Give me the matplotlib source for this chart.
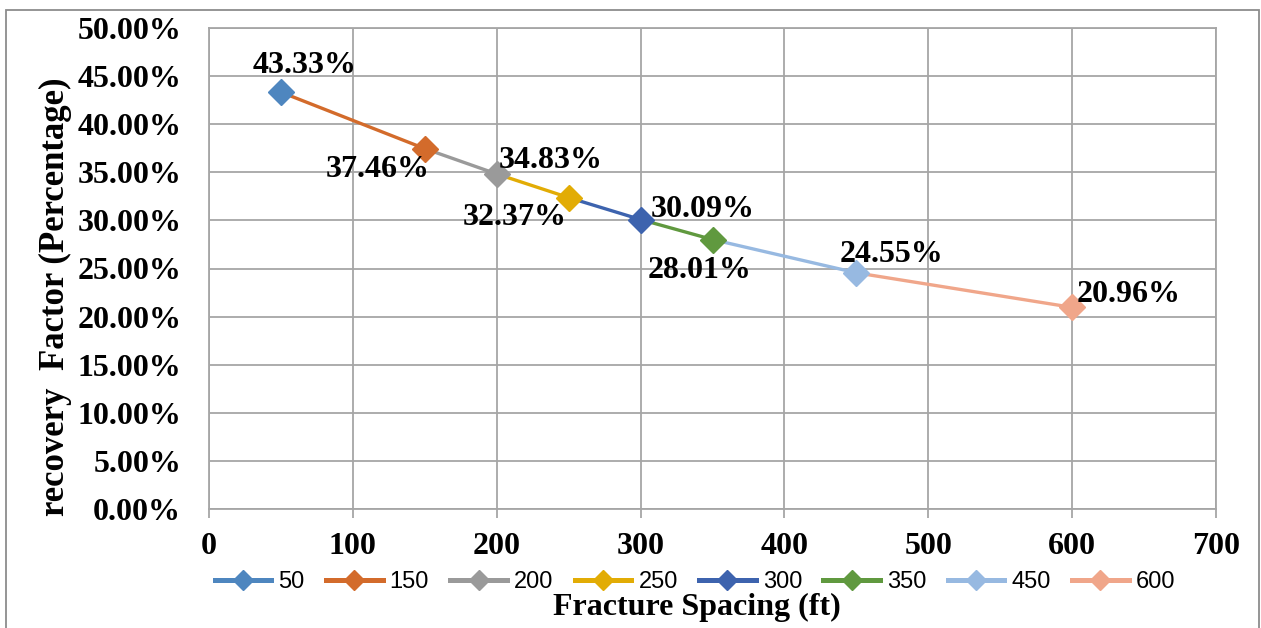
import matplotlib
matplotlib.use("Agg")
import matplotlib.pyplot as plt
from matplotlib.patches import Rectangle
from matplotlib.ticker import MultipleLocator, FuncFormatter

# fracture spacing (ft) vs recovery factor (%)
spacing = [50, 150, 200, 250, 300, 350, 450, 600]
recovery = [43.33, 37.46, 34.83, 32.37, 30.09, 28.01, 24.55, 20.96]
series_names = ['50', '150', '200', '250', '300', '350', '450', '600']
colors = ['#4E86BF', '#D36B2B', '#9A9A9A', '#E2AC05', '#3D63AE', '#60993F', '#97B9E1', '#F0A68A']

# label offsets in points (dx, dy) from each marker
label_offsets = [(17, 19), (-34, -15), (39, 10), (-39, -14), (45, 7), (-9, -22), (25, 13), (41, 9)]

plt.rcParams['font.family'] = 'Liberation Serif'
plt.rcParams['font.weight'] = 'bold'

fig = plt.figure(figsize=(12.61, 6.28), dpi=100)
ax = fig.add_axes([209/1261, 1 - 509/628, (1216 - 209)/1261, (509 - 28)/628])

grid_col = '#A6A6A6'

# each series is the segment from the previous spacing to its own, marker at its end
for i in range(len(spacing)):
    if i == 0:
        xs, ys, mk = [spacing[0]], [recovery[0]], [0]
    else:
        xs, ys, mk = [spacing[i-1], spacing[i]], [recovery[i-1], recovery[i]], [1]
    ax.plot(xs, ys, color=colors[i], lw=2.4, marker='D', markersize=13,
            markevery=mk, zorder=10 - i, label=series_names[i], clip_on=False)

for i, (x, y) in enumerate(zip(spacing, recovery)):
    dx, dy = label_offsets[i]
    ax.annotate(f'{y:.2f}%', (x, y), xytext=(dx, dy), textcoords='offset points',
                ha='center', va='center', fontsize=23, fontweight='bold', zorder=20)

ax.set_xlim(0, 700)
ax.set_ylim(0, 50)
ax.xaxis.set_major_locator(MultipleLocator(100))
ax.yaxis.set_major_locator(MultipleLocator(5))
ax.yaxis.set_major_formatter(FuncFormatter(lambda v, p: f'{v:.2f}%'))
ax.grid(True, color=grid_col, lw=1.3)
ax.set_axisbelow(True)
for s in ax.spines.values():
    s.set_color(grid_col)
    s.set_linewidth(1.3)

ax.tick_params(axis='x', length=6.5, width=1.3, color=grid_col, pad=10, labelsize=23)
ax.tick_params(axis='y', length=0, pad=20, labelsize=23)

ax.set_xlabel('Fracture Spacing (ft)', fontsize=23, fontweight='bold')
ax.xaxis.set_label_coords((697 - 209)/1007, -(593 - 509)/481)
ax.set_ylabel('recovery  Factor (Percentage)', fontsize=25, fontweight='bold')
ax.yaxis.set_label_coords(-(209 - 72)/1007, (509 - 297)/481)

leg = fig.legend(loc='center', bbox_to_anchor=(695/1261, 1 - 582/628), ncol=8,
                 frameon=False, prop={'family': 'Liberation Sans', 'weight': 'normal', 'size': 17},
                 handlelength=2.4, handletextpad=0.3, columnspacing=0.9)
for h in leg.legend_handles:
    h.set_linewidth(3.6)
    h.set_markersize(10)

# outer chart frame
fig.patches.append(Rectangle((6/1261, -0.02), (1259 - 6)/1261, 1.02 - 10/628,
                             transform=fig.transFigure, fill=False,
                             edgecolor='#8C8C8C', lw=1.3, figure=fig))

fig.savefig('out.png', dpi=100)
